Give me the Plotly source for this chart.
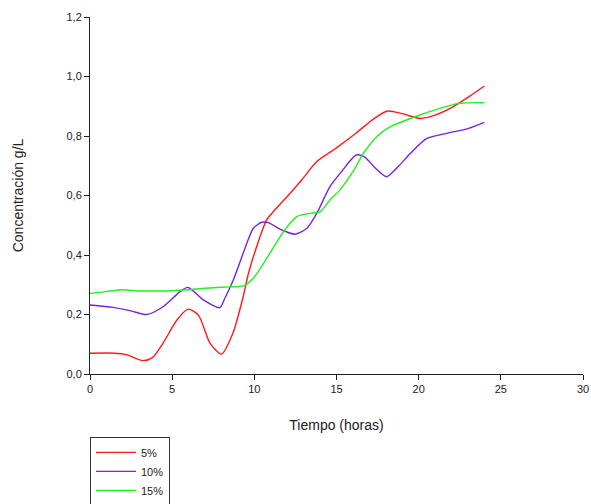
import plotly.graph_objects as go

x_red = [0, 1.5, 2.2, 3.2, 3.8, 4.45, 5.27, 5.97, 6.6, 7.3, 8.0, 8.7, 9.33, 9.64, 10.14, 10.75, 11.16, 12.17, 12.88, 13.8, 15.0, 16.2, 17.2, 18.1, 19.0, 20.1, 21.0, 22.0, 23.0, 24.0]
y_red = [0.07, 0.07, 0.065, 0.045, 0.055, 0.104, 0.18, 0.218, 0.198, 0.104, 0.067, 0.138, 0.262, 0.338, 0.428, 0.518, 0.546, 0.607, 0.652, 0.714, 0.76, 0.81, 0.855, 0.884, 0.875, 0.859, 0.87, 0.895, 0.93, 0.968]

x_pur = [0, 1.42, 2.5, 3.45, 4.45, 5.48, 5.97, 6.9, 7.9, 8.2, 8.72, 9.54, 9.94, 10.45, 10.85, 11.67, 12.48, 13.2, 13.8, 14.6, 15.3, 16.2, 16.7, 17.4, 18.05, 18.8, 19.5, 20.5, 21.7, 23.0, 24.0]
y_pur = [0.232, 0.224, 0.212, 0.2, 0.226, 0.277, 0.291, 0.249, 0.223, 0.254, 0.316, 0.439, 0.49, 0.51, 0.509, 0.484, 0.47, 0.49, 0.54, 0.63, 0.68, 0.736, 0.73, 0.69, 0.663, 0.7, 0.742, 0.792, 0.809, 0.825, 0.846]

x_grn = [0, 1.0, 2.0, 3.0, 4.0, 5.0, 6.0, 7.0, 8.5, 9.33, 9.94, 10.95, 11.77, 12.58, 13.6, 14.0, 14.6, 15.2, 16.0, 16.7, 17.5, 18.2, 19.7, 21.3, 22.5, 24.0]
y_grn = [0.271, 0.277, 0.283, 0.279, 0.279, 0.28, 0.283, 0.288, 0.293, 0.296, 0.322, 0.406, 0.478, 0.529, 0.542, 0.545, 0.585, 0.618, 0.68, 0.747, 0.8, 0.829, 0.863, 0.893, 0.91, 0.912]

names = ["5%", "10%", "15%"]
colors = ["#ff1a1a", "#7a22dd", "#22ee22"]

fig = go.Figure()
for xs, ys, n, c in [(x_red, y_red, names[0], colors[0]),
                     (x_pur, y_pur, names[1], colors[1]),
                     (x_grn, y_grn, names[2], colors[2])]:
    fig.add_trace(go.Scatter(x=xs, y=ys, mode="lines", name=n,
                             line=dict(color=c, width=1.4, shape="spline", smoothing=0.7)))

fig.update_layout(
    width=591, height=504,
    margin=dict(l=90, r=8, t=17, b=130, autoexpand=False),
    paper_bgcolor="white", plot_bgcolor="white",
    separators=",.",
    font=dict(family="Liberation Sans, Arial, sans-serif", size=11, color="#222"),
    showlegend=True,
    legend=dict(x=0.0, xanchor="left", y=-0.176, yanchor="top",
                bordercolor="#333", borderwidth=1, bgcolor="white",
                font=dict(size=11), tracegroupgap=0, itemwidth=40),
)
fig.update_xaxes(range=[0, 30], tickvals=[0, 5, 10, 15, 20, 25, 30],
                 showline=True, linecolor="#222", linewidth=1, ticks="outside",
                 ticklen=5, tickcolor="#222", showgrid=False, zeroline=False,
                 title=dict(text="Tiempo (horas)", font=dict(size=14), standoff=25))
fig.update_yaxes(range=[0, 1.2], tickvals=[0, 0.2, 0.4, 0.6, 0.8, 1.0, 1.2], tickformat=".1f",
                 showline=True, linecolor="#222", linewidth=1, ticks="outside",
                 ticklen=5, tickcolor="#222", showgrid=False, zeroline=False,
                 title=dict(text="Concentración g/L", font=dict(size=14), standoff=39))

fig.write_html("out.html")
